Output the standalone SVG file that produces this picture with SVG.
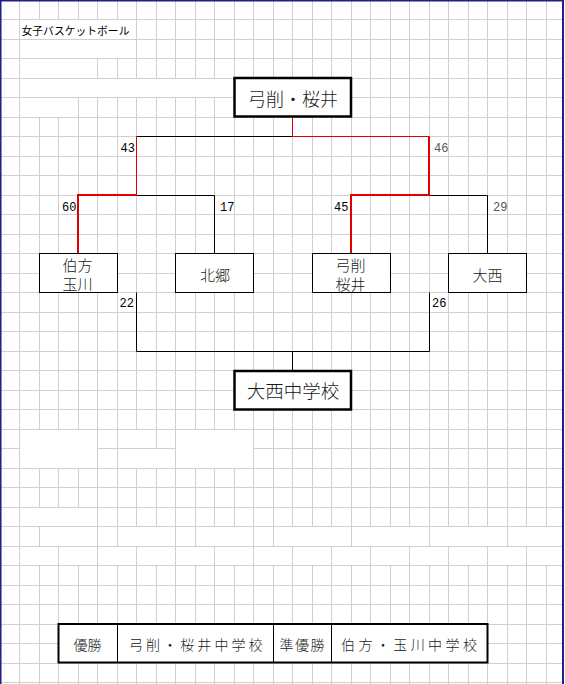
<svg xmlns="http://www.w3.org/2000/svg" width="565" height="684" viewBox="0 0 565 684">
<style>
.grid{stroke:#d0d0d0;stroke-width:1;fill:none}
.merge{fill:#fff}
.box{fill:#fff;stroke:#000;stroke-width:1}
.bigbox{fill:#fff;stroke:#000;stroke-width:2.5}
.jp{font-family:"Noto Sans CJK JP","Noto Sans",sans-serif;fill:#1a1a1a;font-weight:300}
.num{font-family:"Liberation Mono","DejaVu Sans Mono",monospace;font-size:12px}
.blk{stroke:#000;stroke-width:1;fill:none}
.red1{stroke:#e00000;stroke-width:1;fill:none}
.red2{stroke:#e00000;stroke-width:2;fill:none}
</style>
<rect width="565" height="684" fill="#fff"/>
<g id="grid">
<path class="grid" d="M19.5 0V684M39.5 0V684M58.5 0V684M78.5 0V684M97.5 0V684M117.5 0V684M136.5 0V684M156.5 0V684M175.5 0V684M195.5 0V684M214.5 0V684M234.5 0V684M253.5 0V684M273.5 0V684M292.5 0V684M312.5 0V684M331.5 0V684M351.5 0V684M370.5 0V684M390.5 0V684M409.5 0V684M429.5 0V684M448.5 0V684M468.5 0V684M487.5 0V684M507.5 0V684M526.5 0V684M546.5 0V684
M0 19.5H563M0 39.5H563M0 58.5H563M0 78.5H563M0 97.5H563M0 117.5H563M0 136.5H563M0 156.5H563M0 175.5H563M0 195.5H563M0 214.5H563M0 234.5H563M0 253.5H563M0 273.5H563M0 292.5H563M0 312.5H563M0 331.5H563M0 351.5H563M0 370.5H563M0 390.5H563M0 409.5H563M0 429.5H563M0 448.5H563M0 468.5H563M0 487.5H563M0 507.5H563M0 526.5H563M0 546.5H563M0 565.5H563M0 585.5H563M0 604.5H563M0 624.5H563M0 643.5H563M0 663.5H563M0 682.5H563"/>
<g class="merge">
<rect x="20" y="20" width="116" height="19"/>
<rect x="20" y="40" width="116" height="18"/>
<rect x="20" y="59" width="77" height="19"/>
<rect x="20" y="79" width="214" height="18"/>
<rect x="20" y="98" width="58" height="19"/>
<rect x="20" y="430" width="77" height="38"/>
<rect x="118" y="430" width="38" height="18"/>
<rect x="118" y="449" width="57" height="19"/>
<rect x="176" y="430" width="77" height="38"/>
<rect x="20" y="508" width="77" height="18"/>
<rect x="40" y="527" width="57" height="19"/>
<rect x="118" y="527" width="57" height="19"/>
<rect x="196" y="527" width="57" height="19"/>
<rect x="274" y="527" width="77" height="19"/>
<rect x="352" y="527" width="77" height="19"/>
<rect x="430" y="527" width="77" height="19"/>
<rect x="508" y="527" width="54" height="19"/>
<rect x="20" y="547" width="38" height="18"/>
<rect x="59" y="547" width="38" height="18"/>
<rect x="98" y="547" width="38" height="18"/>
<rect x="137" y="547" width="38" height="18"/>
<rect x="176" y="547" width="38" height="18"/>
<rect x="215" y="547" width="38" height="18"/>
<rect x="254" y="547" width="38" height="18"/>
<rect x="293" y="547" width="38" height="18"/>
<rect x="332" y="547" width="38" height="18"/>
<rect x="371" y="547" width="38" height="18"/>
<rect x="410" y="547" width="38" height="18"/>
<rect x="449" y="547" width="38" height="18"/>
<rect x="488" y="547" width="38" height="18"/>
<rect x="527" y="547" width="35" height="18"/>
</g>
</g>
<g id="frame" fill="#1f1f8a">
<rect x="0" y="0" width="1.5" height="684"/>
<rect x="0" y="0" width="564" height="1.5"/>
<rect x="562" y="0" width="2" height="684"/>
</g>
<text id="title" class="jp" x="21.5" y="35" font-size="10.8" style="font-weight:400;fill:#000">女子バスケットボール</text>
<g id="connectors">
<path class="blk" d="M136.5 136.5H292.5"/>
<path class="blk" d="M136.5 195.5H214.5V253.5"/>
<path class="blk" d="M429.5 195.5H487.5V253.5"/>
<path class="blk" d="M136.5 292.5V351.5H429.5V292.5M292.5 351.5V371"/>
<path class="red1" d="M292.5 117V136.5H429.5"/>
<path class="red1" d="M136.5 136.5V195.5"/>
<path class="red2" d="M429 136.5V195H351V253.5"/>
<path class="red2" d="M137 195H78V253.5"/>
<g class="num">
<text x="135" y="151.5" text-anchor="end" fill="#000">43</text>
<text x="434" y="151.5" fill="#555">46</text>
<text x="76.5" y="211" text-anchor="end" fill="#000">60</text>
<text x="220" y="211" fill="#000">17</text>
<text x="348.5" y="211" text-anchor="end" fill="#000">45</text>
<text x="493" y="211" fill="#555">29</text>
<text x="134" y="307" text-anchor="end" fill="#000">22</text>
<text x="432" y="307" fill="#000">26</text>
</g>
</g>
<g id="champion">
<rect class="bigbox" x="234.5" y="78" width="116.5" height="38.5"/>
<text class="jp" x="293" y="106" font-size="18" text-anchor="middle">弓削・桜井</text>
</g>
<g id="team-hakata">
<rect class="box" x="39.5" y="253.5" width="78" height="39"/>
<text class="jp" font-size="15" text-anchor="middle"><tspan x="77.5" y="270.5">伯方</tspan><tspan x="77.5" y="289.5">玉川</tspan></text>
</g>
<g id="team-hokugo">
<rect class="box" x="175.5" y="253.5" width="78" height="39"/>
<text class="jp" x="215" y="280.5" font-size="15" text-anchor="middle">北郷</text>
</g>
<g id="team-yuge">
<rect class="box" x="312.5" y="253.5" width="78" height="39"/>
<text class="jp" font-size="15" text-anchor="middle"><tspan x="350.5" y="270.5">弓削</tspan><tspan x="350.5" y="289.5">桜井</tspan></text>
</g>
<g id="team-onishi">
<rect class="box" x="448.5" y="253.5" width="78" height="39"/>
<text class="jp" x="487.5" y="280.5" font-size="15" text-anchor="middle">大西</text>
</g>
<g id="third">
<rect class="bigbox" x="234.5" y="371" width="116.5" height="38.5"/>
<text class="jp" x="293" y="397.5" font-size="18.5" text-anchor="middle">大西中学校</text>
</g>
<g id="results">
<rect x="58.5" y="624" width="429" height="38.5" fill="#fff" stroke="#000" stroke-width="2"/>
<path class="blk" d="M117.5 624V662.5M273.5 624V662.5M331.5 624V662.5"/>
<text class="jp" x="87.5" y="649.5" font-size="14" text-anchor="middle">優勝</text>
<text class="jp" x="197.3" y="649.5" font-size="14" text-anchor="middle" letter-spacing="3.1">弓削・桜井中学校</text>
<text class="jp" x="302.8" y="649.5" font-size="14" text-anchor="middle" letter-spacing="1.5">準優勝</text>
<text class="jp" x="410.7" y="649.5" font-size="14" text-anchor="middle" letter-spacing="3.4">伯方・玉川中学校</text>
</g>
</svg>
